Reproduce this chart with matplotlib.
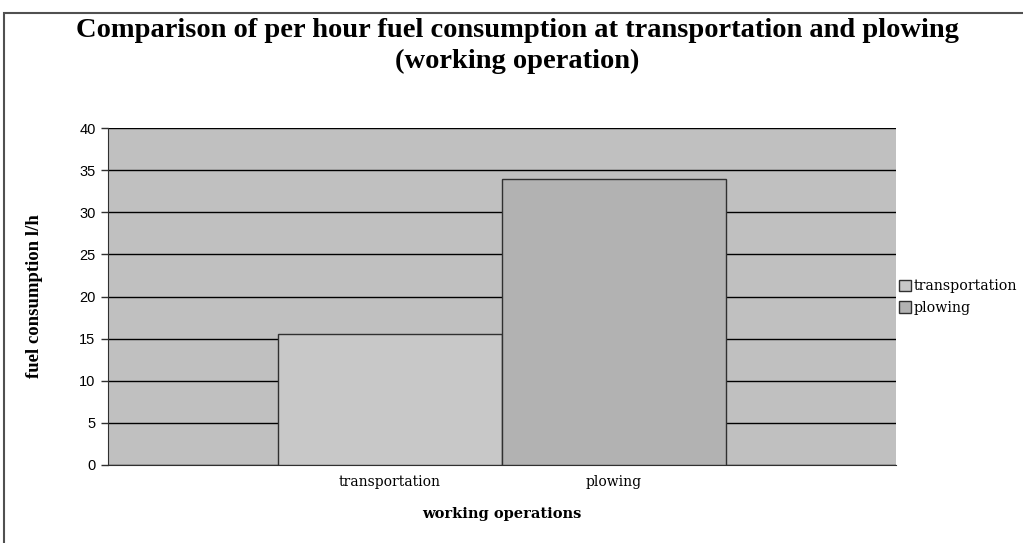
import matplotlib.pyplot as plt
from matplotlib.patches import Rectangle

# data
categories = ["transportation", "plowing"]
fuel_lh = [15.5, 33.9]
bar_colors = ["#c8c8c8", "#b2b2b2"]
y_ticks = [0, 5, 10, 15, 20, 25, 30, 35, 40]

fig = plt.figure(figsize=(10.23, 5.43), dpi=100)
W, H = 1023, 543

# outer chart border (cropped at right / bottom like the original)
fig.patches.append(Rectangle((4 / W, -0.1), 1.2, 1 - 13 / H + 0.1, transform=fig.transFigure,
                             fill=False, edgecolor="#505050", linewidth=1.5))

ax = fig.add_axes([108 / W, 1 - 465 / H, 788 / W, 337 / H])
ax.set_facecolor("#c0c0c0")

x = range(len(categories))
ax.bar(x, fuel_lh, width=1.0, color=bar_colors, edgecolor="#303030", linewidth=1.0,
       zorder=3, label=categories)

ax.set_xlim(-1.26, 2.26)
ax.set_ylim(0, 40)
ax.set_yticks(y_ticks)
ax.yaxis.grid(True, color="black", linewidth=1.0, zorder=1)
ax.set_axisbelow(True)

for s in ["top", "right"]:
    ax.spines[s].set_visible(False)
ax.spines["left"].set_color("#303030")
ax.spines["bottom"].set_color("#303030")

ax.set_xticks(list(x))
ax.set_xticklabels(categories, family="DejaVu Serif", fontsize=10)
ax.tick_params(axis="x", length=0, pad=7)
ax.tick_params(axis="y", length=5, width=1, color="#303030", pad=4)
for lbl in ax.get_yticklabels():
    lbl.set_family("Liberation Sans")
    lbl.set_fontsize(10.5)

ax.set_xlabel("working operations", family="DejaVu Serif", fontweight="bold",
              fontsize=10.5, labelpad=13)
ax.set_ylabel("fuel consumption l/h", family="Liberation Serif", fontweight="bold",
              fontsize=13.5, labelpad=26)

fig.text(517 / W, 1 - 46 / H, "Comparison of per hour fuel consumption at transportation and plowing\n(working operation)",
         ha="center", va="center", family="Liberation Serif", fontweight="bold",
         fontsize=20.5, linespacing=1.3)

ax.legend(loc="center left", bbox_to_anchor=(899 / W, 1 - 297 / H), bbox_transform=fig.transFigure,
          frameon=False, prop={"family": "DejaVu Serif", "size": 10.2},
          handlelength=0.85, handleheight=0.85, handletextpad=0.15, labelspacing=0.55,
          borderaxespad=0, borderpad=0)

fig.savefig("out.png", dpi=100)
